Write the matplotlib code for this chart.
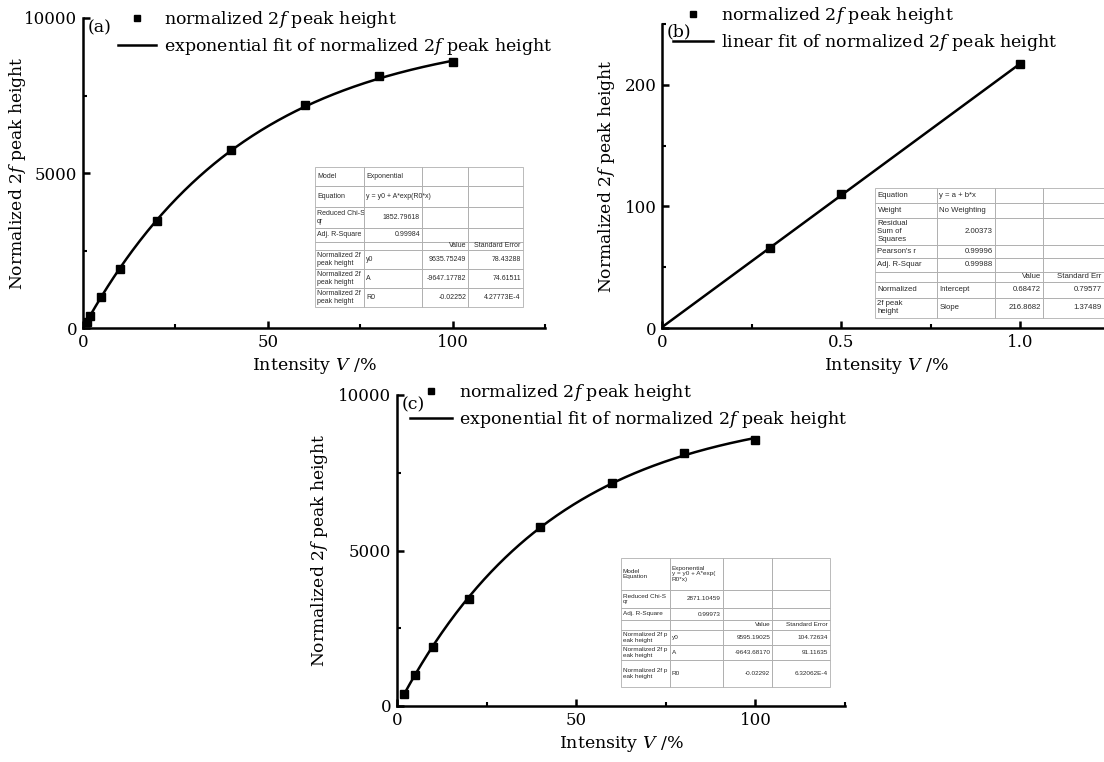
import numpy as np
import matplotlib
matplotlib.use("Agg")
import matplotlib.pyplot as plt
from matplotlib.ticker import MultipleLocator

plt.rcParams['font.family'] = ['DejaVu Serif']
plt.rcParams['mathtext.fontset'] = 'dejavuserif'

# ---- data ----
# (a) exponential
a_x = [1, 2, 5, 10, 20, 40, 60, 80, 100]
a_y = [200, 400, 1000, 1900, 3450, 5750, 7180, 8120, 8580]
a_fit = [9635.75249, -9647.17782, -0.02252]      # y0, A, R0

# (b) linear
b_x = [0.3, 0.5, 1.0]
b_y = [66, 110, 217]
b_fit = [0.68472, 216.8682]                       # intercept, slope

# (c) exponential
c_x = [2, 5, 10, 20, 40, 60, 80, 100]
c_y = [380, 1000, 1900, 3450, 5750, 7180, 8120, 8560]
c_fit = [9595.19025, -9643.68170, -0.02292]

# fit tables shown in the insets
a_table = [
    ['Model', 'Exponential', '', ''],
    ['Equation', 'y = y0 + A*exp(R0*x)', '', ''],
    ['Reduced Chi-S\nqr', '1852.79618', '', ''],
    ['Adj. R-Square', '0.99984', '', ''],
    ['', '', 'Value', 'Standard Error'],
    ['Normalized 2f\npeak height', 'y0', '9635.75249', '78.43288'],
    ['Normalized 2f\npeak height', 'A', '-9647.17782', '74.61511'],
    ['Normalized 2f\npeak height', 'R0', '-0.02252', '4.27773E-4'],
]
b_table = [
    ['Equation', 'y = a + b*x', '', ''],
    ['Weight', 'No Weighting', '', ''],
    ['Residual\nSum of\nSquares', '2.00373', '', ''],
    ["Pearson's r", '0.99996', '', ''],
    ['Adj. R-Squar', '0.99988', '', ''],
    ['', '', 'Value', 'Standard Err'],
    ['Normalized', 'Intercept', '0.68472', '0.79577'],
    ['2f peak\nheight', 'Slope', '216.8682', '1.37489'],
]
c_table = [
    ['Model\nEquation', 'Exponential\ny = y0 + A*exp(\nR0*x)', '', ''],
    ['Reduced Chi-S\nqr', '2871.10459', '', ''],
    ['Adj. R-Square', '0.99973', '', ''],
    ['', '', 'Value', 'Standard Error'],
    ['Normalized 2f p\neak height', 'y0', '9595.19025', '104.72634'],
    ['Normalized 2f p\neak height', 'A', '-9643.68170', '91.11635'],
    ['Normalized 2f p\neak height', 'R0', '-0.02292', '6.32062E-4'],
]

W, H = 1104, 762
fig = plt.figure(figsize=(W / 100, H / 100), dpi=100)


def px_axes(left, top, right, bottom):
    return fig.add_axes([left / W, 1 - bottom / H, (right - left) / W, (bottom - top) / H])


def style(ax, xmaj, xmin, ymaj, ymin, ylab_x):
    for s in ['top', 'right']:
        ax.spines[s].set_visible(False)
    for s in ['left', 'bottom']:
        ax.spines[s].set_linewidth(1.8)
    ax.xaxis.set_major_locator(MultipleLocator(xmaj))
    ax.xaxis.set_minor_locator(MultipleLocator(xmin))
    ax.yaxis.set_major_locator(MultipleLocator(ymaj))
    ax.yaxis.set_minor_locator(MultipleLocator(ymin))
    ax.tick_params(which='major', direction='in', length=5, width=1.8, labelsize=12, pad=4)
    ax.tick_params(which='minor', direction='in', length=3, width=1.5)
    ax.set_xlabel('Intensity $V$ /%', fontsize=12.5, labelpad=4)
    ax.set_ylabel('Normalized 2$f$ peak height', fontsize=12.3)
    ax.yaxis.set_label_coords(ylab_x, 0.5)


def legend(ax, fit_label, x, y, hlen):
    h1, = ax.plot([], [], 's', color='black', markersize=5)
    h2, = ax.plot([], [], '-', color='black', lw=1.8)
    ax.legend([h1, h2], ['normalized 2$f$ peak height', fit_label],
              loc='upper left', bbox_to_anchor=(x / W, 1 - y / H),
              bbox_transform=fig.transFigure, frameon=False, fontsize=12.5,
              borderpad=0, borderaxespad=0, handlelength=hlen, handletextpad=0.45,
              labelspacing=0.35, numpoints=1)


def inset_table(left, top, right, bottom, rows, colw, rowh, fs, n_head):
    tax = px_axes(left, top, right, bottom)
    tax.axis('off')
    tb = tax.table(cellText=rows, bbox=[0, 0, 1, 1], cellLoc='left')
    tb.auto_set_font_size(False)
    for (r, c), cell in tb.get_celld().items():
        cell.set_width(colw[c])
        cell.set_height(rowh[r])
        cell.set_edgecolor('#b0b0b0')
        cell.set_facecolor('none')
        cell.set_linewidth(0.6)
        cell.PAD = 0.04
        t = cell.get_text()
        t.set_fontsize(fs)
        t.set_family(['Liberation Sans', 'DejaVu Sans'])
        t.set_color('#2a2a2a')
        if c >= 2 or (c == 1 and r < n_head and t.get_text()[:1].isdigit()):
            t.set_ha('right')
            cell._loc = 'right'
    return tb


# ---- (a) ----
ax = px_axes(83, 18, 545, 328)
ax.set_xlim(0, 125)
ax.set_ylim(0, 10000)
xs = np.linspace(0, 100, 300)
ax.plot(xs, a_fit[0] + a_fit[1] * np.exp(a_fit[2] * xs), '-', color='black', lw=1.8)
ax.plot(a_x, a_y, 's', color='black', markersize=5.5)
style(ax, 50, 25, 5000, 2500, -0.118)
legend(ax, 'exponential fit of normalized 2$f$ peak height', 118, 9, 2.2)
fig.text(88 / W, 1 - 28 / H, '(a)', fontsize=12.5, va='center')
inset_table(315, 167, 523, 307, a_table, [50, 60, 47, 56],
            [18, 20, 20, 13, 8, 18, 18, 18], 5.0, 4)

# ---- (b) ----
ax = px_axes(662, 24, 1110, 328)
ax.set_xlim(0, 1.25)
ax.set_ylim(0, 250)
xs = np.linspace(0, 1.0, 50)
ax.plot(xs, b_fit[0] + b_fit[1] * xs, '-', color='black', lw=1.8)
ax.plot(b_x, b_y, 's', color='black', markersize=5.5)
style(ax, 0.5, 0.25, 100, 50, -0.100)
ax.xaxis.set_major_formatter(lambda v, p: '0' if v == 0 else f'{v:.1f}')
legend(ax, 'linear fit of normalized 2$f$ peak height', 673, 5, 2.3)
fig.text(667 / W, 1 - 32 / H, '(b)', fontsize=12.5, va='center')
inset_table(875, 188, 1104, 318, b_table, [62, 58, 48, 61],
            [15, 15, 27, 13, 14, 10, 16, 20], 5.6, 5)

# ---- (c) ----
ax = px_axes(397, 395, 845, 706)
ax.set_xlim(0, 125)
ax.set_ylim(0, 10000)
xs = np.linspace(2, 100, 300)
ax.plot(xs, c_fit[0] + c_fit[1] * np.exp(c_fit[2] * xs), '-', color='black', lw=1.8)
ax.plot(c_x, c_y, 's', color='black', markersize=5.5)
style(ax, 50, 25, 5000, 2500, -0.150)
legend(ax, 'exponential fit of normalized 2$f$ peak height', 410, 382, 2.4)
fig.text(402 / W, 1 - 405 / H, '(c)', fontsize=12.5, va='center')
inset_table(621, 558, 830, 687, c_table, [49, 53, 50, 58],
            [32, 18, 12, 10, 15, 15, 27], 4.6, 3)

fig.savefig('out.png', dpi=100)
